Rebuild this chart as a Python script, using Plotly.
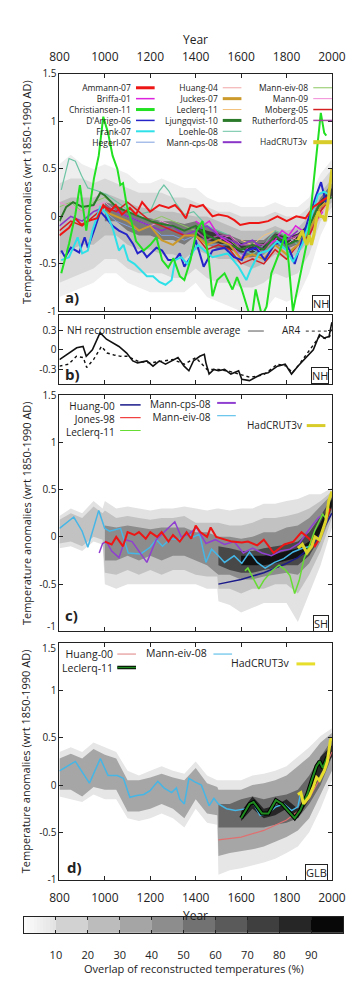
import plotly.graph_objects as go
import numpy as np

W, H = 359, 990

# ---------------- data: NH reconstructions (panel a) ----------------
ammann_years = [800,842,870,897,925,966,993,1021,1048,1075,1110,1137,1164,1199,1240,1281,1309,1336,1357,1377,1404,1432,1474,1500,1541,1570,1596,1637,1678,1719,1760,1801,1843,1884,1918,1950,1980]
ammann_vals = [-0.2,-0.12,-0.02,-0.09,-0.05,-0.02,0.12,0.05,0.12,0.02,0.09,0.02,0.15,0.05,0.12,0.09,0.12,0.05,-0.02,0.12,0.1,0.12,0.0,0.02,0.0,-0.04,-0.09,-0.07,-0.07,-0.05,0.0,-0.05,0.0,-0.02,0.1,0.15,0.2]
briffa_years = [1400,1430,1460,1500,1530,1560,1600,1630,1660,1690,1720,1750,1780,1810,1840,1870,1900,1930,1960]
briffa_vals = [-0.05,-0.1,-0.05,-0.2,-0.25,-0.3,-0.45,-0.32,-0.3,-0.4,-0.3,-0.25,-0.15,-0.2,-0.1,-0.15,-0.2,-0.05,0.05]
christiansen_years = [808,842,870,890,918,952,973,993,1014,1034,1055,1068,1080,1096,1117,1137,1171,1200,1227,1252,1279,1302,1330,1350,1377,1404,1430,1458,1474,1495,1527,1562,1582,1603,1630,1645,1664,1692,1712,1733,1767,1794,1810,1828,1856,1897,1918,1939,1951,1966,1975]
christiansen_vals = [-0.6,-0.29,0.02,0.33,-0.15,0.4,0.64,1.05,0.88,0.64,0.5,0.33,0.35,0.12,-0.05,-0.26,-0.36,-0.3,-0.22,-0.46,-0.54,-0.44,-0.63,-0.67,-0.46,-0.15,-0.05,-0.46,-0.84,-0.67,-0.6,-0.77,-0.64,-0.77,-0.98,-1.1,-0.77,-1.05,-0.95,-0.6,-0.39,-0.19,-0.5,-1.0,-0.67,-0.19,0.33,0.85,1.09,0.88,0.85]
darrigo_years = [808,825,850,887,911,925,952,980,1007,1034,1062,1096,1124,1144,1165,1185,1227,1252,1279,1309,1330,1350,1377,1400,1435,1474,1527,1569,1603,1623,1664,1705,1747,1788,1815,1836,1863,1897,1932,1952,1973,1985]
darrigo_vals = [-0.36,-0.43,-0.33,-0.38,-0.22,-0.33,-0.15,0.05,-0.02,-0.1,-0.15,-0.19,-0.29,-0.39,-0.36,-0.43,-0.33,-0.36,-0.46,-0.46,-0.39,-0.53,-0.43,-0.25,-0.53,-0.36,-0.33,-0.43,-0.46,-0.36,-0.33,-0.46,-0.29,-0.26,-0.36,-0.5,-0.29,-0.02,0.23,0.36,0.15,0.25]
frank_years = [808,842,880,900,925,945,980,1007,1034,1062,1082,1103,1130,1158,1185,1212,1240,1267,1294,1309,1336,1363,1391,1410,1474,1541,1589,1623,1640,1678,1719,1760,1801,1829,1870,1897,1939,1966,1987]
frank_vals = [-0.46,-0.43,-0.22,-0.39,-0.36,-0.15,0.1,0.03,-0.12,-0.36,-0.3,-0.46,-0.5,-0.57,-0.63,-0.63,-0.69,-0.72,-0.67,-0.46,-0.43,-0.5,-0.36,-0.3,-0.43,-0.39,-0.53,-0.67,-0.57,-0.39,-0.36,-0.26,-0.36,-0.48,-0.29,-0.09,0.23,0.26,0.23]
hegerl_years = [800,850,900,950,1000,1050,1100,1150,1200,1250,1300,1350,1400,1450,1500,1550,1600,1650,1700,1750,1800,1850,1900,1960]
hegerl_vals = [-0.1,0.0,-0.1,0.05,0.05,-0.05,-0.1,-0.15,-0.1,-0.2,-0.2,-0.25,-0.2,-0.3,-0.3,-0.3,-0.4,-0.35,-0.4,-0.3,-0.35,-0.3,-0.2,0.1]
huang04_years = [1500,1600,1700,1800,1850,1900,1950,1980]
huang04_vals = [-0.4,-0.45,-0.42,-0.35,-0.3,-0.2,0.0,0.15]
juckes_years = [1000,1050,1100,1150,1200,1250,1300,1350,1400,1450,1500,1550,1600,1650,1700,1750,1800,1850,1900,1950,1980]
juckes_vals = [0.05,0.0,-0.05,-0.15,-0.1,-0.25,-0.3,-0.2,-0.2,-0.3,-0.25,-0.3,-0.45,-0.4,-0.45,-0.3,-0.4,-0.3,-0.15,0.1,0.15]
leclerq_nh_years = [1600,1650,1700,1750,1800,1850,1900,1950,1990]
leclerq_nh_vals = [-0.25,-0.3,-0.2,-0.15,-0.2,-0.25,-0.1,0.1,0.2]
ljungqvist_years = [800,830,860,900,950,980,1000,1050,1100,1150,1200,1250,1300,1350,1400,1450,1500,1550,1600,1650,1700,1750,1800,1850,1900,1950,1999]
ljungqvist_vals = [-0.05,0.1,0.15,0.1,0.12,0.25,0.22,0.1,0.05,0.0,-0.05,-0.08,-0.1,-0.15,-0.1,-0.2,-0.25,-0.3,-0.35,-0.3,-0.35,-0.2,-0.3,-0.25,-0.1,0.15,0.2]
loehle_years = [808,842,870,897,925,966,1007,1048,1089,1144,1199,1240,1260,1281,1309,1350,1391,1450,1500,1550,1600,1650,1700,1750,1800,1850,1900,1935]
loehle_vals = [0.28,0.61,0.58,0.43,0.3,0.27,0.23,0.16,0.09,0.02,0.05,0.27,0.33,0.27,0.15,0.02,0.05,-0.1,-0.15,-0.2,-0.35,-0.4,-0.3,-0.15,-0.2,-0.3,-0.1,0.0]
manncps_years = [800,850,900,950,1000,1050,1100,1150,1200,1250,1300,1350,1400,1450,1500,1550,1600,1650,1700,1750,1800,1850]
manncps_vals = [-0.1,0.0,-0.05,0.05,0.1,0.05,0.0,-0.05,-0.1,-0.15,-0.1,-0.2,-0.15,-0.1,-0.2,-0.25,-0.3,-0.25,-0.35,-0.2,-0.25,-0.15]
manneiv_years = [800,850,900,950,1000,1050,1100,1150,1200,1250,1300,1350,1400,1450,1500,1550,1600,1650,1700,1750,1800,1850]
manneiv_vals = [0.1,0.15,0.05,0.15,0.2,0.1,0.05,0.0,-0.05,0.0,-0.05,-0.1,-0.15,-0.25,-0.2,-0.25,-0.35,-0.3,-0.4,-0.2,-0.3,-0.25]
mann09_years = [800,850,900,950,1000,1050,1100,1150,1200,1250,1300,1350,1400,1450,1500,1550,1600,1650,1700,1750,1800,1850]
mann09_vals = [0.15,0.1,0.05,0.1,0.15,0.05,0.0,-0.05,-0.1,-0.05,-0.1,-0.15,-0.1,-0.2,-0.25,-0.2,-0.3,-0.3,-0.35,-0.25,-0.3,-0.2]
moberg_years = [800,850,900,950,1000,1050,1100,1150,1200,1250,1300,1350,1400,1450,1500,1550,1600,1650,1700,1750,1800,1850,1900,1950,1979]
moberg_vals = [-0.15,-0.05,-0.1,0.0,0.1,0.05,0.15,0.05,-0.05,-0.1,-0.15,-0.2,-0.2,-0.35,-0.3,-0.35,-0.5,-0.45,-0.5,-0.35,-0.45,-0.3,-0.2,0.05,0.15]
rutherford_years = [1400,1450,1500,1550,1600,1650,1700,1750,1800,1850,1900,1960]
rutherford_vals = [-0.15,-0.25,-0.2,-0.2,-0.35,-0.3,-0.3,-0.2,-0.25,-0.2,-0.15,0.1]
hadcrut_nh_years = [1850,1860,1870,1880,1890,1900,1910,1920,1930,1940,1950,1960,1970,1980,1990,2000]
hadcrut_nh_vals = [-0.25,-0.2,-0.15,-0.25,-0.3,-0.2,-0.3,-0.2,-0.05,0.05,0.0,0.0,-0.05,0.1,0.3,0.5]

# NH overlap shading (lower / upper bounds of each overlap level)
nh_shade_years = [800,850,900,950,1000,1050,1100,1150,1200,1250,1300,1350,1400,1450,1500,1550,1600,1650,1700,1750,1800,1850,1900,1950,2000]
nh_l1_lo = [-0.85,-0.8,-0.75,-0.7,-0.6,-0.6,-0.7,-0.75,-0.8,-0.8,-0.8,-0.8,-0.7,-0.85,-0.9,-0.95,-1.0,-1.0,-1.0,-0.85,-0.9,-0.85,-0.6,-0.2,0.05]
nh_l1_hi = [0.55,0.65,0.55,0.5,0.55,0.5,0.45,0.35,0.35,0.4,0.35,0.3,0.3,0.2,0.15,0.15,0.1,0.1,0.1,0.15,0.1,0.1,0.2,0.45,0.6]
nh_l2_lo = [-0.7,-0.65,-0.6,-0.55,-0.45,-0.45,-0.55,-0.6,-0.6,-0.6,-0.65,-0.65,-0.55,-0.65,-0.7,-0.7,-0.75,-0.75,-0.7,-0.6,-0.65,-0.6,-0.4,-0.05,0.1]
nh_l2_hi = [0.35,0.4,0.4,0.35,0.4,0.35,0.3,0.25,0.25,0.25,0.2,0.2,0.15,0.1,0.05,0.05,0.0,0.0,0.0,0.05,0.0,0.0,0.1,0.35,0.5]
nh_l3_lo = [-0.4,-0.35,-0.3,-0.3,-0.2,-0.2,-0.3,-0.35,-0.35,-0.4,-0.4,-0.45,-0.35,-0.4,-0.45,-0.45,-0.5,-0.55,-0.5,-0.4,-0.45,-0.4,-0.25,0.05,0.15]
nh_l3_hi = [0.15,0.2,0.2,0.2,0.25,0.2,0.15,0.1,0.08,0.05,0.05,0.02,0.0,0.0,-0.05,-0.1,-0.15,-0.15,-0.15,-0.1,-0.15,-0.12,0.0,0.25,0.4]
nh_l4_years = [1000,1050,1100,1150,1200,1250,1300,1350,1400,1450,1500,1550,1600,1650,1700,1750,1800,1850,1900,1950,2000]
nh_l4_lo = [-0.05,-0.05,-0.15,-0.2,-0.2,-0.25,-0.25,-0.3,-0.2,-0.3,-0.35,-0.35,-0.4,-0.45,-0.4,-0.3,-0.35,-0.3,-0.2,0.08,0.2]
nh_l4_hi = [0.15,0.12,0.05,0.0,-0.02,-0.05,-0.05,-0.08,-0.05,-0.1,-0.15,-0.2,-0.25,-0.25,-0.25,-0.15,-0.2,-0.2,-0.05,0.2,0.35]
nh_l5_years = [1400,1450,1500,1550,1600,1650,1700,1750,1800,1850,1900,1950,2000]
nh_l5_lo = [-0.2,-0.25,-0.28,-0.35,-0.38,-0.38,-0.35,-0.25,-0.3,-0.25,-0.15,0.1,0.22]
nh_l5_hi = [-0.1,-0.15,-0.18,-0.22,-0.28,-0.3,-0.28,-0.18,-0.22,-0.18,-0.08,0.17,0.3]

# ---------------- panel b ----------------
nh_ens_years = [800,842,876,904,918,945,979,1007,1034,1062,1096,1123,1144,1185,1212,1240,1267,1294,1322,1349,1370,1390,1418,1438,1445,1459,1480,1500,1527,1555,1589,1603,1637,1664,1692,1719,1760,1794,1822,1850,1884,1918,1945,1966,1987,2000]
nh_ens_vals = [-0.15,-0.05,0.03,0.05,-0.1,0.0,0.26,0.16,0.1,0.05,-0.05,-0.17,-0.2,-0.17,-0.25,-0.17,-0.22,-0.17,-0.12,-0.25,-0.32,-0.17,-0.1,-0.07,-0.2,-0.37,-0.3,-0.32,-0.3,-0.37,-0.32,-0.45,-0.47,-0.42,-0.37,-0.35,-0.25,-0.22,-0.37,-0.25,-0.12,0.0,0.23,0.18,0.2,0.42]
ar4_years = [800,840,875,905,920,950,985,1010,1040,1070,1100,1150,1200,1250,1300,1350,1400,1450,1500,1550,1600,1640,1670,1700,1730,1760,1800,1825,1850,1900,1945,1970,1990,2000]
ar4_vals = [-0.25,-0.22,-0.1,-0.12,-0.27,-0.15,0.05,-0.05,-0.08,-0.1,-0.1,-0.18,-0.2,-0.18,-0.15,-0.22,-0.12,-0.3,-0.3,-0.33,-0.38,-0.42,-0.4,-0.38,-0.3,-0.22,-0.25,-0.35,-0.25,-0.02,0.2,0.17,0.2,0.4]

# ---------------- panel c: SH ----------------
sh_huang_years = [1500,1600,1700,1800,1850,1900,1950,2000]
sh_huang_vals = [-0.5,-0.45,-0.38,-0.28,-0.22,-0.12,0.03,0.25]
sh_jones_years = [1000,1030,1050,1080,1100,1130,1150,1180,1200,1230,1250,1280,1300,1330,1360,1380,1400,1420,1450,1466,1490,1521,1560,1603,1630,1671,1700,1743,1790,1830,1866,1900,1925,1950,1970,1991]
sh_jones_vals = [-0.05,-0.08,0.0,-0.1,0.05,0.02,0.05,-0.02,0.05,0.0,0.05,-0.05,0.02,-0.05,0.05,-0.02,0.12,0.05,0.0,0.1,0.0,-0.02,-0.05,-0.06,-0.05,-0.09,-0.03,-0.17,-0.08,-0.05,0.05,-0.02,-0.1,0.0,0.15,0.3]
sh_leclerq_years = [1617,1630,1658,1678,1700,1740,1767,1795,1815,1836,1856,1877,1904,1925,1945,1959,1972,1986]
sh_leclerq_vals = [-0.36,-0.33,-0.46,-0.55,-0.46,-0.35,-0.3,-0.35,-0.41,-0.6,-0.46,-0.23,-0.07,0.07,0.17,0.24,0.2,0.31]
sh_manncps_years = [975,990,1007,1030,1062,1089,1120,1150,1185,1226,1260,1308,1336,1370,1404,1445,1486,1527,1569,1610,1651,1692,1733,1774,1815,1856,1897,1939,1950]
sh_manncps_vals = [-0.17,-0.07,-0.05,-0.15,-0.22,-0.03,-0.05,-0.15,-0.27,-0.03,0.05,0.16,0.0,0.03,0.1,-0.07,-0.03,-0.08,-0.05,-0.17,-0.12,-0.17,-0.2,-0.15,-0.13,-0.07,0.07,0.2,0.22]
sh_manneiv_years = [800,863,900,925,973,999,1021,1069,1103,1158,1199,1226,1254,1289,1330,1363,1391,1417,1445,1470,1500,1527,1569,1603,1637,1671,1706,1747,1788,1829,1870,1906,1930]
sh_manneiv_vals = [0.09,0.21,0.06,-0.11,0.28,0.09,0.06,0.09,-0.17,-0.18,-0.11,-0.03,-0.1,-0.02,-0.03,0.04,0.0,0.03,-0.27,-0.13,-0.2,-0.27,-0.2,-0.28,-0.16,-0.27,-0.33,-0.27,-0.23,-0.16,-0.12,-0.1,0.0]
sh_hadcrut_years = [1850,1870,1890,1911,1925,1945,1959,1973,1986,2000]
sh_hadcrut_vals = [-0.12,-0.08,-0.17,-0.1,0.0,-0.03,0.07,0.17,0.38,0.48]

sh_l12_years = [800,850,900,950,990,1000,1050,1100,1150,1200,1250,1300,1350,1400,1450,1495,1500,1550,1600,1650,1700,1750,1800,1850,1900,1950,2000]
sh_l1_lo = [-0.12,-0.1,-0.15,-0.05,-0.08,-0.5,-0.55,-0.5,-0.5,-0.5,-0.5,-0.5,-0.5,-0.5,-0.55,-0.55,-0.68,-0.72,-0.8,-0.75,-0.7,-0.7,-0.7,-0.9,-0.6,-0.3,0.1]
sh_l1_hi = [0.22,0.3,0.25,0.38,0.3,0.38,0.3,0.32,0.3,0.28,0.3,0.3,0.32,0.3,0.28,0.3,0.3,0.28,0.3,0.3,0.35,0.35,0.38,0.4,0.45,0.45,0.52]
sh_l2_lo = [-0.07,-0.05,-0.1,0.0,-0.03,-0.38,-0.4,-0.35,-0.4,-0.35,-0.4,-0.35,-0.35,-0.4,-0.42,-0.42,-0.55,-0.55,-0.6,-0.55,-0.55,-0.5,-0.5,-0.6,-0.4,-0.15,0.2]
sh_l2_hi = [0.18,0.25,0.2,0.32,0.25,0.28,0.2,0.22,0.2,0.18,0.2,0.2,0.22,0.15,0.15,0.15,0.15,0.12,0.12,0.15,0.2,0.2,0.22,0.25,0.3,0.38,0.48]
sh_l3_years = [1000,1050,1100,1150,1200,1250,1300,1350,1400,1450,1500,1550,1600,1650,1700,1750,1800,1850,1900,1950,2000]
sh_l3_lo = [-0.25,-0.25,-0.2,-0.25,-0.2,-0.25,-0.2,-0.2,-0.25,-0.3,-0.4,-0.4,-0.45,-0.45,-0.42,-0.4,-0.38,-0.4,-0.28,-0.05,0.25]
sh_l3_hi = [0.12,0.1,0.12,0.1,0.08,0.1,0.1,0.1,0.05,0.05,0.0,0.0,-0.02,0.0,0.05,0.05,0.1,0.12,0.2,0.32,0.45]
sh_l4_years = [1500,1550,1600,1650,1700,1750,1800,1850,1900,1950,2000]
sh_l4_lo = [-0.3,-0.35,-0.38,-0.38,-0.35,-0.33,-0.3,-0.3,-0.2,0.0,0.3]
sh_l4_hi = [-0.1,-0.12,-0.15,-0.15,-0.12,-0.1,-0.08,-0.05,0.05,0.22,0.42]
sh_l5_years = [1600,1650,1700,1750,1800,1850,1900,1950,2000]
sh_l5_lo = [-0.3,-0.3,-0.3,-0.28,-0.25,-0.22,-0.15,0.05,0.32]
sh_l5_hi = [-0.2,-0.2,-0.2,-0.18,-0.15,-0.12,-0.05,0.15,0.4]

# ---------------- panel d: GLB ----------------
glb_huang_years = [1500,1600,1700,1800,1850,1900,1950,2000]
glb_huang_vals = [-0.58,-0.55,-0.48,-0.37,-0.28,-0.14,0.08,0.35]
glb_leclerq_years = [1600,1637,1655,1692,1720,1753,1780,1808,1836,1860,1891,1911,1932,1946,1960,1980]
glb_leclerq_vals = [-0.35,-0.2,-0.18,-0.3,-0.3,-0.16,-0.2,-0.27,-0.35,-0.27,-0.1,0.05,0.2,0.25,0.18,0.3]
glb_manneiv_years = [800,870,932,980,1014,1055,1082,1110,1140,1171,1199,1233,1260,1294,1315,1330,1350,1370,1398,1425,1459,1480,1500,1536,1575,1623,1650,1684,1719,1753,1788,1822,1850,1863]
glb_manneiv_vals = [0.15,0.25,0.02,0.28,0.1,0.1,0.07,-0.13,-0.11,-0.1,-0.06,0.04,-0.03,-0.08,-0.03,-0.15,-0.2,0.07,0.03,0.0,-0.22,-0.14,-0.2,-0.25,-0.27,-0.25,-0.18,-0.32,-0.3,-0.23,-0.2,-0.27,-0.23,-0.08]
glb_hadcrut_years = [1850,1863,1875,1884,1900,1918,1932,1945,1966,1980,1993,2000]
glb_hadcrut_vals = [-0.1,-0.08,-0.2,-0.17,-0.12,-0.02,0.08,0.05,0.15,0.25,0.47,0.5]

glb_l12_years = [800,850,900,950,1000,1050,1100,1150,1200,1250,1300,1350,1400,1450,1495,1500,1550,1600,1650,1700,1750,1800,1850,1900,1950,2000]
glb_l1_lo = [-0.12,-0.15,-0.18,-0.1,-0.15,-0.15,-0.35,-0.38,-0.35,-0.3,-0.35,-0.45,-0.25,-0.4,-0.42,-0.95,-0.9,-0.88,-0.85,-0.82,-0.78,-0.72,-0.65,-0.5,-0.25,0.05]
glb_l1_hi = [0.35,0.4,0.35,0.45,0.4,0.35,0.15,0.1,0.15,0.2,0.15,0.12,0.25,0.1,0.05,0.05,0.05,0.05,0.1,0.12,0.15,0.2,0.3,0.4,0.52,0.6]
glb_l2_lo = [-0.05,-0.05,-0.12,-0.02,-0.05,-0.05,-0.28,-0.28,-0.25,-0.2,-0.25,-0.35,-0.15,-0.3,-0.32,-0.75,-0.72,-0.7,-0.68,-0.65,-0.6,-0.55,-0.48,-0.35,-0.1,0.15]
glb_l2_hi = [0.28,0.33,0.28,0.38,0.32,0.28,0.05,0.05,0.08,0.12,0.08,0.05,0.18,0.02,-0.02,-0.05,-0.05,-0.05,0.0,0.02,0.05,0.1,0.2,0.3,0.45,0.55]
glb_l3_years = [1500,1550,1600,1650,1700,1750,1800,1850,1900,1950,2000]
glb_l3_lo = [-0.45,-0.45,-0.45,-0.45,-0.45,-0.42,-0.4,-0.35,-0.2,0.0,0.3]
glb_l3_hi = [-0.2,-0.2,-0.15,-0.12,-0.15,-0.12,-0.1,-0.05,0.1,0.3,0.48]
glb_l4_years = [1600,1650,1700,1750,1800,1850,1900,1950,2000]
glb_l4_lo = [-0.38,-0.25,-0.35,-0.32,-0.25,-0.35,-0.15,0.12,0.3]
glb_l4_hi = [-0.28,-0.12,-0.25,-0.22,-0.15,-0.25,-0.05,0.3,0.42]

# ---------------- colour bar / tick values ----------------
overlap_ticks = [10, 20, 30, 40, 50, 60, 70, 80, 90]
year_ticks = [800, 1000, 1200, 1400, 1600, 1800, 2000]
big_ticks = [-1, -0.5, 0, 0.5, 1, 1.5]
b_ticks = [-0.3, 0, 0.3]

# ---------------- helpers ----------------
def px_x(x):
    return x / W

def px_y(y):
    return 1 - y / H

XDOM = [px_x(53), px_x(345)]
YDOM = {
    '': [px_y(308), px_y(67)],
    '2': [px_y(382), px_y(312)],
    '3': [px_y(633), px_y(393)],
    '4': [px_y(885), px_y(645)],
}

fig = go.Figure()

def add_band(years, lo, hi, color, ax):
    xs = list(years) + list(years)[::-1]
    ys = list(hi) + list(lo)[::-1]
    fig.add_trace(go.Scatter(x=xs, y=ys, fill='toself', fillcolor=color, mode='lines',
                             line=dict(width=0, color=color), hoverinfo='skip',
                             showlegend=False, xaxis='x' + ax, yaxis='y' + ax))

def add_line(years, vals, color, width, ax, dash='solid'):
    fig.add_trace(go.Scatter(x=years, y=vals, mode='lines',
                             line=dict(color=color, width=width, dash=dash),
                             hoverinfo='skip', showlegend=False,
                             xaxis='x' + ax, yaxis='y' + ax))

# ---- panel a shading
add_band(nh_shade_years, nh_l1_lo, nh_l1_hi, '#eeeeee', '')
add_band(nh_shade_years, nh_l2_lo, nh_l2_hi, '#d8d8d8', '')
add_band(nh_shade_years, nh_l3_lo, nh_l3_hi, '#bdbdbd', '')
add_band(nh_l4_years, nh_l4_lo, nh_l4_hi, '#7a7a7a', '')
add_band(nh_l5_years, nh_l5_lo, nh_l5_hi, '#383838', '')

nh_series = [
    ('Ammann-07', ammann_years, ammann_vals, '#ee1515', 2.0, 3),
    ('Briffa-01', briffa_years, briffa_vals, '#dd22dd', 1.5, 1.5),
    ('Christiansen-11', christiansen_years, christiansen_vals, '#22e022', 2.0, 3),
    ("D'Arrigo-06", darrigo_years, darrigo_vals, '#2424c8', 2.0, 1.5),
    ('Frank-07', frank_years, frank_vals, '#2ee0e8', 2.0, 2),
    ('Hegerl-07', hegerl_years, hegerl_vals, '#7f9fe0', 1.0, 1),
    ('Huang-04', huang04_years, huang04_vals, '#f2a6a6', 1.0, 1),
    ('Juckes-07', juckes_years, juckes_vals, '#cc9a2a', 2.0, 3),
    ('Leclerq-11', leclerq_nh_years, leclerq_nh_vals, '#f3c27a', 1.0, 1),
    ('Ljungqvist-10', ljungqvist_years, ljungqvist_vals, '#2a7a2a', 2.0, 3),
    ('Loehle-08', loehle_years, loehle_vals, '#6cc4a4', 1.2, 1),
    ('Mann-cps-08', manncps_years, manncps_vals, '#8a35c8', 1.5, 2),
    ('Mann-eiv-08', manneiv_years, manneiv_vals, '#8cc860', 1.0, 1),
    ('Mann-09', mann09_years, mann09_vals, '#f28ad8', 1.0, 1),
    ('Moberg-05', moberg_years, moberg_vals, '#d42020', 1.5, 1.5),
    ('Rutherford-05', rutherford_years, rutherford_vals, '#a64a9e', 1.5, 1.5),
    ('HadCRUT3v', hadcrut_nh_years, hadcrut_nh_vals, '#d8cc2a', 3.0, 4),
]
draw_order = [5, 6, 8, 10, 12, 13, 1, 15, 11, 14, 9, 7, 3, 4, 0, 2, 16]
for i in draw_order:
    name, yrs, vals, col, wd, lw = nh_series[i]
    add_line(yrs, vals, col, wd, '')

# ---- panel b
add_line(ar4_years, ar4_vals, '#111111', 1.4, '2', dash='dot')
add_line(nh_ens_years, nh_ens_vals, '#111111', 1.6, '2')

# ---- panel c shading + lines
add_band(sh_l12_years, sh_l1_lo, sh_l1_hi, '#e2e2e2', '3')
add_band(sh_l12_years, sh_l2_lo, sh_l2_hi, '#c2c2c2', '3')
add_band(sh_l3_years, sh_l3_lo, sh_l3_hi, '#8c8c8c', '3')
add_band(sh_l4_years, sh_l4_lo, sh_l4_hi, '#484848', '3')
add_band(sh_l5_years, sh_l5_lo, sh_l5_hi, '#121212', '3')
add_line(sh_huang_years, sh_huang_vals, '#1a1a8a', 1.5, '3')
add_line(sh_manneiv_years, sh_manneiv_vals, '#45b6e6', 1.5, '3')
add_line(sh_manncps_years, sh_manncps_vals, '#9040d0', 1.5, '3')
add_line(sh_jones_years, sh_jones_vals, '#ee1515', 2.0, '3')
add_line(sh_leclerq_years, sh_leclerq_vals, '#66dd33', 1.5, '3')
add_line(sh_hadcrut_years, sh_hadcrut_vals, '#dcd42a', 3.0, '3')

# ---- panel d shading + lines
add_band(glb_l12_years, glb_l1_lo, glb_l1_hi, '#e6e6e6', '4')
add_band(glb_l12_years, glb_l2_lo, glb_l2_hi, '#a6a6a6', '4')
add_band(glb_l3_years, glb_l3_lo, glb_l3_hi, '#686868', '4')
add_band(glb_l4_years, glb_l4_lo, glb_l4_hi, '#262626', '4')
add_line(glb_huang_years, glb_huang_vals, '#e07070', 1.2, '4')
add_line(glb_manneiv_years, glb_manneiv_vals, '#45b6e6', 1.5, '4')
add_line(glb_leclerq_years, glb_leclerq_vals, '#000000', 4.0, '4')
add_line(glb_leclerq_years, glb_leclerq_vals, '#1f8a1f', 2.0, '4')
add_line(glb_hadcrut_years, glb_hadcrut_vals, '#e6de2a', 3.0, '4')

# ---- colour bar
pct = np.arange(0.5, 100, 1.0)
cscale = [[0, '#fcfcfc'], [0.1, '#e2e2e2'], [0.1, '#d2d2d2'], [0.2, '#d2d2d2'],
          [0.2, '#bcbcbc'], [0.3, '#bcbcbc'], [0.3, '#a5a5a5'], [0.4, '#a5a5a5'],
          [0.4, '#8d8d8d'], [0.5, '#8d8d8d'], [0.5, '#727272'], [0.6, '#727272'],
          [0.6, '#5a5a5a'], [0.7, '#5a5a5a'], [0.7, '#3f3f3f'], [0.8, '#3f3f3f'],
          [0.8, '#262626'], [0.9, '#262626'], [0.9, '#080808'], [1, '#080808']]
fig.add_trace(go.Heatmap(x=pct, y=[0.5], z=[list(pct)], zmin=0, zmax=100,
                         colorscale=cscale, showscale=False, hoverinfo='skip',
                         xaxis='x5', yaxis='y5'))

# ---------------- axes ----------------
FONT = 'Open Sans'
def xax(anchor, labels, side='bottom', standoff=None):
    d = dict(range=[800, 2000], domain=XDOM, anchor=anchor, tickvals=year_ticks,
             ticks='inside', ticklen=4, tickcolor='#222', showline=True,
             linecolor='#222', linewidth=1, mirror='ticks', showgrid=False,
             zeroline=False, showticklabels=labels, side=side,
             tickfont=dict(size=12, family=FONT, color='#222'))
    if standoff is not None:
        d['ticklabelstandoff'] = standoff
    return d

def yax(anchor, dom, rng, vals, hide=()):
    return dict(range=rng, domain=dom, anchor=anchor, tickvals=vals,
                ticktext=[('' if v in hide else '%g' % v) for v in vals],
                ticks='inside', ticklen=4,
                tickcolor='#222', showline=True, linecolor='#222', linewidth=1,
                mirror='ticks', showgrid=False, zeroline=False,
                tickfont=dict(size=10, family=FONT, color='#222'))

fig.update_layout(
    width=W, height=H, autosize=False,
    margin=dict(l=0, r=0, t=0, b=0),
    paper_bgcolor='white', plot_bgcolor='rgba(0,0,0,0)',
    showlegend=False,
    font=dict(family=FONT, size=11, color='#222'),
    xaxis=xax('y', True, 'top', standoff=7),
    xaxis2=xax('y2', False),
    xaxis3=xax('y3', False),
    xaxis4=xax('y4', True, standoff=7),
    yaxis=yax('x', YDOM[''], [-1, 1.5], big_ticks),
    yaxis2=yax('x2', YDOM['2'], [-0.525, 0.525], b_ticks),
    # the edge labels between panels c and d are placed as separate texts below
    yaxis3=yax('x3', YDOM['3'], [-1, 1.5], big_ticks, hide=(-1,)),
    yaxis4=yax('x4', YDOM['4'], [-1, 1.5], big_ticks, hide=(1.5,)),
    xaxis5=dict(domain=[px_x(15), px_x(357)], range=[0, 100], anchor='y5',
                tickvals=overlap_ticks, ticks='inside', ticklen=3, tickcolor='#222',
                showline=True, linecolor='#222', mirror='ticks', showgrid=False,
                zeroline=False, ticklabelstandoff=12,
                tickfont=dict(size=11, family=FONT, color='#222')),
    yaxis5=dict(domain=[px_y(939), px_y(923)], range=[0, 1], anchor='x5',
                showticklabels=False, ticks='', showline=True, linecolor='#222',
                mirror=True, showgrid=False, zeroline=False),
)

# ---------------- annotations & legend ----------------
ann = []
shapes = []

def text(x, y, s, size=11, anchor='center', bold=False, angle=0, **kw):
    d = dict(x=px_x(x), y=px_y(y), xref='paper', yref='paper', text=('<b>%s</b>' % s) if bold else s,
             showarrow=False, xanchor=anchor, yanchor='middle', textangle=angle,
             font=dict(size=size, family=FONT, color='#222'))
    d.update(kw)
    ann.append(d)

def seg(x0, x1, y, color, width, dash='solid'):
    shapes.append(dict(type='line', xref='paper', yref='paper', x0=px_x(x0), x1=px_x(x1),
                       y0=px_y(y), y1=px_y(y), line=dict(color=color, width=width, dash=dash)))

def block(x_right, y_first, names, size):
    """Multi-line right-aligned legend text; returns the row centres (px)."""
    top = y_first - 0.65 * size - 1
    ann.append(dict(x=px_x(x_right), y=px_y(top), xref='paper', yref='paper',
                    text='<br>'.join(names), showarrow=False, xanchor='right',
                    yanchor='top', align='right', borderpad=1,
                    font=dict(size=size, family=FONT, color='#222')))
    return [y_first + i * 1.3 * size for i in range(len(names))]

# edge tick labels between panels c and d, nudged apart slightly
text(50, 628, '%g' % big_ticks[0], size=10, anchor='right', borderpad=0)
text(50, 650, '%g' % big_ticks[-1], size=10, anchor='right', borderpad=0)

text(199, 32, 'Year', size=12)
text(199, 921, 'Year', size=12)
text(197, 975, 'Overlap of reconstructed temperatures (%)', size=11)
for yc in (187, 513, 765):
    text(17, yc, 'Temperature anomalies (wrt 1850-1990 AD)', size=11, angle=-90)

# panel labels
text(57, 293, 'a)', size=15, anchor='left', bold=True)
text(57, 372, 'b)', size=15, anchor='left', bold=True)
text(57, 616, 'c)', size=15, anchor='left', bold=True)
text(59, 872, 'd)', size=15, anchor='left', bold=True)

# region boxes
for (xr, yb, lab) in ((343, 300, 'NH'), (342, 373, 'NH'), (342, 625, 'SH'), (341, 878, 'GLB')):
    text(xr, yb, lab, size=11, anchor='right', bordercolor='#222', borderwidth=1,
         borderpad=0, bgcolor='white')

# panel a legend (three columns)
LEG_A = 8.5
col_specs = [(132, 135, 155, [0, 1, 2, 3, 4, 5]),
             (225, 228, 248, [6, 7, 8, 9, 10, 11]),
             (322, 325, 345, [12, 13, 14, 15])]
row_pos = None
for tx, l0, l1, idx in col_specs:
    rows = block(tx, 80, [nh_series[i][0] for i in idx], LEG_A)
    if row_pos is None:
        row_pos = rows
    for i, r in zip(idx, rows):
        seg(l0, l1, r + 1, nh_series[i][3], nh_series[i][5])
had = nh_series[16]
text(322, row_pos[5], had[0], size=LEG_A, anchor='right')
seg(325, 345, row_pos[5] + 1, had[3], had[5])

# panel b legend
text(250, 327, 'NH reconstruction ensemble average', size=10, anchor='right')
seg(255, 272, 328, '#555555', 1)
text(313, 327, 'AR4', size=10, anchor='right')
seg(317, 343, 328, '#555555', 1.2, 'dot')

# panel c legend
r = block(115, 402, ['Huang-00', 'Jones-98', 'Leclerq-11'], 10)
seg(118, 140, r[0] + 1, '#1a1a8a', 1.5)
seg(118, 140, r[1] + 1, '#ee1515', 1)
seg(118, 140, r[2] + 1, '#66dd33', 1)
r = block(218, 400, ['Mann-cps-08', 'Mann-eiv-08'], 10)
seg(222, 242, r[0] + 1, '#9040d0', 2)
seg(222, 242, r[1] + 1, '#45b6e6', 1)
text(315, 423, 'HadCRUT3v', size=10, anchor='right'); seg(318, 338, 424, '#d8cc2a', 3)

# panel d legend
r = block(112, 655, ['Huang-00', 'Leclerq-11'], 10.5)
seg(115, 135, r[0] + 1, '#e08080', 1)
seg(115, 135, r[1] + 1, '#000000', 3.5); seg(115, 135, r[1] + 1, '#1f8a1f', 1.5)
text(213, 655, 'Mann-eiv-08', size=10.5, anchor='right'); seg(218, 238, 656, '#45b6e6', 1)
text(302, 665, 'HadCRUT3v', size=10.5, anchor='right'); seg(307, 327, 666, '#e6de2a', 3)

fig.update_layout(annotations=ann, shapes=shapes)
fig.write_html('out.html')
